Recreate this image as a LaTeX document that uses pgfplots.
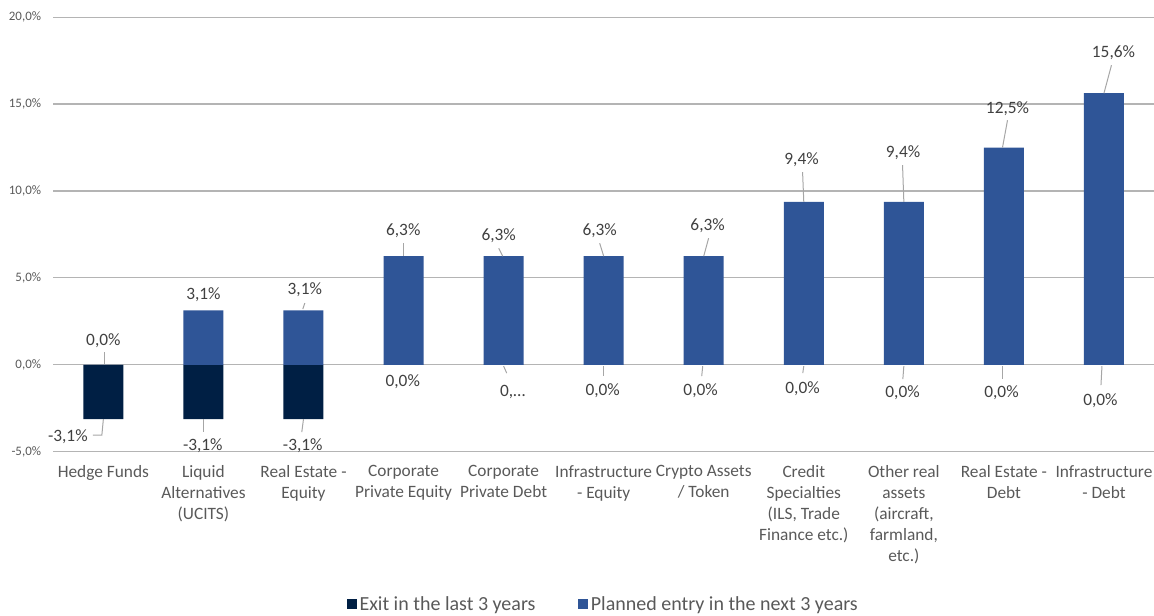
\documentclass[border=0pt]{standalone}
\usepackage{fontspec}
\setmainfont{Carlito}
\usepackage{pgfplots}
\pgfplotsset{compat=1.18}
\definecolor{exitc}{HTML}{001F44}
\definecolor{planc}{HTML}{2F5597}
\definecolor{gridc}{HTML}{B4B4B4}
\definecolor{txtc}{HTML}{595959}
\definecolor{lblc}{HTML}{404040}
\definecolor{ldrc}{HTML}{A6A6A6}
\newcommand{\lab}[5]{\node[dlab] at ([shift={({0.75*(#3)*1pt},{-0.75*(#4)*1pt})}]axis cs:#1,#2) {#5};}
\newcommand{\ldr}[6]{\draw[leader] ([shift={({0.75*(#3)*1pt},{-0.75*(#4)*1pt})}]axis cs:#1,#2) -- ([shift={({0.75*(#5)*1pt},{-0.75*(#6)*1pt})}]axis cs:#1,#2);}
\tikzset{
  dlab/.style={inner sep=0pt, text=lblc, font=\fontsize{13}{15}\selectfont},
  leader/.style={draw=ldrc, line width=0.75pt},
}
\begin{document}
\begin{tikzpicture}
\begin{axis}[
  scale only axis,
  width=825.5pt, height=325.95pt,
  xmin=-0.5, xmax=10.5, ymin=-5, ymax=20,
  enlargelimits=false,
  clip=false,
  axis line style={draw=none},
  major tick length=0pt,
  ytick={-5,0,5,10,15,20},
  ymajorgrids,
  grid style={draw=gridc, line width=0.9pt},
  /pgf/number format/assume math mode=true,
  yticklabel={\pgfmathprintnumber[fixed,fixed zerofill,precision=1,use comma]{\tick}\%},
  yticklabel style={inner sep=0pt, anchor=east, xshift=-9pt, text=txtc, font=\fontsize{9.7}{11}\selectfont},
  xtick={0,...,10},
  xticklabels={Hedge Funds,
    {Liquid\\Alternatives\\(UCITS)},
    {Real Estate -\\Equity},
    {Corporate\\Private Equity},
    {Corporate\\Private Debt},
    {Infrastructure\\- Equity},
    {Crypto Assets\\/ Token},
    {Credit\\Specialties\\(ILS, Trade\\Finance etc.)},
    {Other real\\assets\\(aircraft,\\farmland,\\etc.)},
    {Real Estate -\\Debt},
    {Infrastructure\\- Debt}},
  xticklabel style={anchor=north, inner sep=0pt, yshift=-10pt, align=center, text=txtc, font=\fontsize{13}{15.75}\selectfont},
  ybar, bar width=30pt,
  legend style={at={(0.5,-0.351)}, anchor=center, draw=none, fill=none,
    legend columns=2, font=\fontsize{15}{18}\selectfont, text=txtc,
    /tikz/every even column/.append style={column sep=30pt},
    nodes={inner sep=2pt}},
  legend image code/.code={\fill[#1] (0pt,-3.75pt) rectangle (7.5pt,3.75pt);},
]
\addplot[fill=exitc, draw=none, bar shift=0pt] coordinates {
  (0,-3.125) (1,-3.125) (2,-3.125) (3,0) (4,0) (5,0) (6,0) (7,0) (8,0) (9,0) (10,0)};
\addlegendentry{Exit in the last 3 years}
\addplot[fill=planc, draw=none, bar shift=0pt] coordinates {
  (0,0) (1,3.125) (2,3.125) (3,6.25) (4,6.25) (5,6.25) (6,6.25) (7,9.375) (8,9.375) (9,12.5) (10,15.625)};
\addlegendentry{Planned entry in the next 3 years}
% planned entry labels
\lab{0}{0}{0}{-23.7}{0,0\%}
\ldr{0}{0}{1.5}{-12.7}{1.5}{-0.7}
\lab{1}{3.125}{0}{-15.4}{3,1\%}
\lab{2}{3.125}{1.3}{-20.4}{3,1\%}
\ldr{2}{3.125}{1.3}{-7.4}{-0.7}{-1.4}
\lab{3}{6.25}{-0.3}{-25}{6,3\%}
\ldr{3}{6.25}{0}{-13}{0}{0}
\lab{4}{6.25}{-4.9}{-20}{6,3\%}
\ldr{4}{6.25}{-4.9}{-8}{-0.9}{0}
\lab{5}{6.25}{-4}{-25}{6,3\%}
\ldr{5}{6.25}{-4}{-13}{0}{0}
\lab{6}{6.25}{3.9}{-30}{6,3\%}
\ldr{6}{6.25}{4.9}{-18}{0}{0}
\lab{7}{9.375}{-2.2}{-41.7}{9,4\%}
\ldr{7}{9.375}{-1.2}{-29.7}{0}{0}
\lab{8}{9.375}{-0.8}{-48.7}{9,4\%}
\ldr{8}{9.375}{-1.3}{-36.7}{0}{0}
\lab{9}{12.5}{3.6}{-39.3}{12,5\%}
\ldr{9}{12.5}{3.6}{-27.3}{-1.4}{0}
\lab{10}{15.625}{9.5}{-40}{15,6\%}
\ldr{10}{15.625}{7.5}{-28}{0}{0}
% exit labels
\lab{0}{-3.125}{-35.5}{18}{-3,1\%}
\draw[leader] ([shift={(0pt,0pt)}]axis cs:0,-3.125) -- ([shift={(-1.125pt,-12pt)}]axis cs:0,-3.125) -- ([shift={(-7.875pt,-12pt)}]axis cs:0,-3.125);
\lab{1}{-3.125}{-0.6}{27}{-3,1\%}
\ldr{1}{-3.125}{0}{0}{0}{13}
\lab{2}{-3.125}{-0.7}{27}{-3,1\%}
\ldr{2}{-3.125}{0}{0}{-1.7}{13}
\lab{3}{0}{-0.8}{17.3}{0,0\%}
\lab{4}{0}{9.1}{27.3}{0,\dots}
\ldr{4}{0}{0}{1.3}{3.1}{8.3}
\lab{5}{0}{-1}{26.3}{0,0\%}
\ldr{5}{0}{0}{1.3}{0}{11.3}
\lab{6}{0}{-3.1}{26.3}{0,0\%}
\ldr{6}{0}{-1}{1.3}{-2}{11.3}
\lab{7}{0}{-1.2}{24.3}{0,0\%}
\ldr{7}{0}{0}{1.3}{-1}{8.3}
\lab{8}{0}{-1.3}{28.3}{0,0\%}
\ldr{8}{0}{0}{1.3}{-1}{14.3}
\lab{9}{0}{-2.4}{28.3}{0,0\%}
\ldr{9}{0}{-1}{1.3}{-1}{14.3}
\lab{10}{0}{-3.5}{36.3}{0,0\%}
\ldr{10}{0}{-2}{1.3}{-3}{20.3}
\end{axis}
\pgfresetboundingbox
\path (-40pt,-123.2pt) rectangle (825.5pt,338.8pt);
\end{tikzpicture}
\end{document}
